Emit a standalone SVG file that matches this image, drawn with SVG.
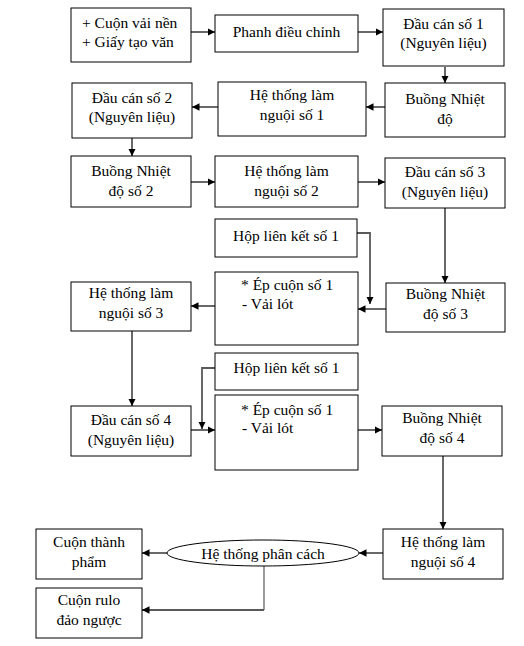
<svg xmlns="http://www.w3.org/2000/svg" width="524" height="646" viewBox="0 0 524 646">
<style>
.b{fill:#fff;stroke:#000;stroke-width:1}
.t{font-family:"Liberation Serif","Times New Roman",serif;font-size:15.5px;fill:#000;text-anchor:middle}
.l{text-anchor:start}
.c{fill:none;stroke:#595959;stroke-width:1.8}
.c1{fill:none;stroke:#595959;stroke-width:1.2}
</style>
<defs>
<marker id="ar" viewBox="0 0 8 8" refX="8" refY="4" markerWidth="7.5" markerHeight="7.5" markerUnits="userSpaceOnUse" orient="auto">
<path d="M0,0 L8,4 L0,8 Z" fill="#000"/>
</marker>
</defs>
<rect width="524" height="646" fill="#fff"/>
<g id="connectors">
<path class="c" d="M191,32 H215" marker-end="url(#ar)"/>
<path class="c" d="M358,32 H383" marker-end="url(#ar)"/>
<path class="c" d="M445,67 V83" marker-end="url(#ar)"/>
<path class="c" d="M385,107 H366" marker-end="url(#ar)"/>
<path class="c" d="M218,107 H192" marker-end="url(#ar)"/>
<path class="c" d="M132,138 V156" marker-end="url(#ar)"/>
<path class="c" d="M191,182 H215" marker-end="url(#ar)"/>
<path class="c" d="M358,182 H385" marker-end="url(#ar)"/>
<path class="c" d="M445,208 V283" marker-end="url(#ar)"/>
<path class="c" d="M357,233 H370 V304" marker-end="url(#ar)"/>
<path class="c" d="M386,309 H358" marker-end="url(#ar)"/>
<path class="c" d="M215,306 H191" marker-end="url(#ar)"/>
<path class="c" d="M132,331 V406" marker-end="url(#ar)"/>
<path class="c" d="M215,368 H202 V429" marker-end="url(#ar)"/>
<path class="c" d="M191,430 H215" marker-end="url(#ar)"/>
<path class="c" d="M358,430 H382" marker-end="url(#ar)"/>
<path class="c" d="M443,456 V529" marker-end="url(#ar)"/>
<path class="c" d="M383,553 H359" marker-end="url(#ar)"/>
<path class="c" d="M167,553 H142" marker-end="url(#ar)"/>
<path class="c1" d="M264,566 V610"/>
<path class="c" d="M264,610 H142" marker-end="url(#ar)"/>
</g>
<g id="n1"><rect class="b" x="71" y="8" width="120" height="54"/><text class="t l" x="82" y="28">+ Cuộn vải nền</text><text class="t l" x="82" y="47">+ Giấy tạo văn</text></g>
<g id="n2"><rect class="b" x="215" y="15" width="143" height="37"/><text class="t" x="286.5" y="37">Phanh điều chỉnh</text></g>
<g id="n3"><rect class="b" x="383" y="9" width="121" height="57"/><text class="t" x="443.5" y="29">Đầu cán số 1</text><text class="t" x="443.5" y="48">(Nguyên liệu)</text></g>
<g id="n4"><rect class="b" x="385" y="83" width="120" height="54"/><text class="t" x="445" y="104">Buồng Nhiệt</text><text class="t" x="445" y="124">độ</text></g>
<g id="n5"><rect class="b" x="218" y="82" width="148" height="54"/><text class="t" x="292" y="100">Hệ thống làm</text><text class="t" x="292" y="120">nguội số 1</text></g>
<g id="n6"><rect class="b" x="72" y="83" width="120" height="55"/><text class="t" x="132" y="103">Đầu cán số 2</text><text class="t" x="132" y="122">(Nguyên liệu)</text></g>
<g id="n7"><rect class="b" x="71" y="156" width="120" height="51"/><text class="t" x="131" y="176">Buồng Nhiệt</text><text class="t" x="131" y="196">độ số 2</text></g>
<g id="n8"><rect class="b" x="215" y="156" width="143" height="51"/><text class="t" x="286.5" y="176">Hệ thống làm</text><text class="t" x="286.5" y="196">nguội số 2</text></g>
<g id="n9"><rect class="b" x="385" y="158" width="120" height="50"/><text class="t" x="445" y="177">Đầu cán số 3</text><text class="t" x="445" y="197">(Nguyên liệu)</text></g>
<g id="n10"><rect class="b" x="215" y="219" width="142" height="38"/><text class="t" x="286" y="241">Hộp liên kết số 1</text></g>
<g id="n11"><rect class="b" x="215" y="272" width="143" height="73"/><text class="t l" x="241" y="290">* Ép cuộn số 1</text><text class="t l" x="242" y="309">- Vải lót</text></g>
<g id="n12"><rect class="b" x="386" y="283" width="119" height="49"/><text class="t" x="445.5" y="299">Buồng Nhiệt</text><text class="t" x="445.5" y="319">độ số 3</text></g>
<g id="n13"><rect class="b" x="71" y="282" width="120" height="49"/><text class="t" x="131" y="298">Hệ thống làm</text><text class="t" x="131" y="318">nguội số 3</text></g>
<g id="n14"><rect class="b" x="215" y="353" width="143" height="37"/><text class="t" x="286.5" y="373">Hộp liên kết số 1</text></g>
<g id="n15"><rect class="b" x="71" y="406" width="120" height="50"/><text class="t" x="131" y="425">Đầu cán số 4</text><text class="t" x="131" y="445">(Nguyên liệu)</text></g>
<g id="n16"><rect class="b" x="215" y="395" width="143" height="75"/><text class="t l" x="241" y="415">* Ép cuộn số 1</text><text class="t l" x="242" y="433">- Vải lót</text></g>
<g id="n17"><rect class="b" x="382" y="406" width="120" height="50"/><text class="t" x="442" y="423">Buồng Nhiệt</text><text class="t" x="442" y="443">độ số 4</text></g>
<g id="n18"><rect class="b" x="383" y="529" width="120" height="50"/><text class="t" x="443" y="547">Hệ thống làm</text><text class="t" x="443" y="567">nguội số 4</text></g>
<g id="n19"><ellipse class="b" cx="263" cy="553" rx="96" ry="13"/><text class="t" x="263" y="559">Hệ thống phân cách</text></g>
<g id="n20"><rect class="b" x="36" y="529" width="106" height="50"/><text class="t" x="89" y="547">Cuộn thành</text><text class="t" x="89" y="567">phẩm</text></g>
<g id="n21"><rect class="b" x="36" y="588" width="106" height="50"/><text class="t" x="89" y="605">Cuộn rulo</text><text class="t" x="89" y="625">đảo ngược</text></g>
</svg>
